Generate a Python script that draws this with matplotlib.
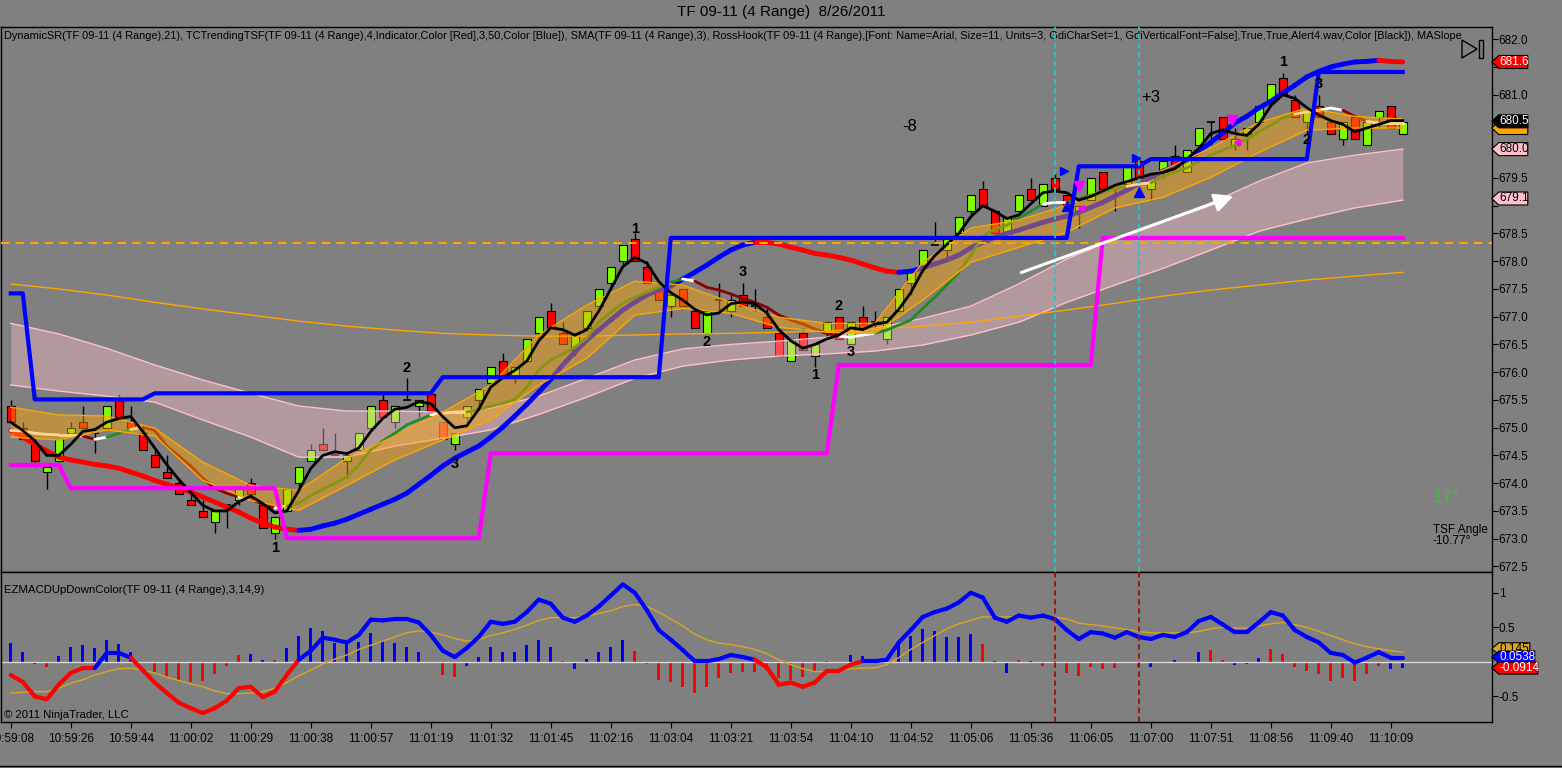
import matplotlib
matplotlib.use('Agg')
import matplotlib.pyplot as plt
import numpy as np
import pandas as pd
from matplotlib.collections import LineCollection
from matplotlib.patches import Rectangle, Polygon
from matplotlib.lines import Line2D
from matplotlib.transforms import blended_transform_factory

plt.rcParams['font.family'] = ['Liberation Sans', 'DejaVu Sans']

title = 'TF 09-11 (4 Range)  8/26/2011'
header = ('DynamicSR(TF 09-11 (4 Range),21), TCTrendingTSF(TF 09-11 (4 Range),4,Indicator,Color [Red],3,50,'
          'Color [Blue]), SMA(TF 09-11 (4 Range),3), RossHook(TF 09-11 (4 Range),[Font: Name=Arial, Size=11, '
          'Units=3, GdiCharSet=1, GdiVerticalFont=False],True,True,Alert4.wav,Color [Black]), MASlope')
macd_header = 'EZMACDUpDownColor(TF 09-11 (4 Range),3,14,9)'

time_labels = ['10:59:08', '10:59:26', '10:59:44', '11:00:02', '11:00:29', '11:00:38', '11:00:57',
               '11:01:19', '11:01:32', '11:01:45', '11:02:16', '11:03:04', '11:03:21', '11:03:54',
               '11:04:10', '11:04:52', '11:05:06', '11:05:36', '11:06:05', '11:07:00', '11:07:51',
               '11:08:56', '11:09:40', '11:10:09']

# 4-range bars
opens = [675.4, 675.0, 674.7, 674.2, 674.4, 674.9, 675.1, 674.9, 675.0, 675.5,
         675.1, 674.9, 674.5, 674.2, 674.0, 673.7, 673.5, 673.3, 673.6, 673.7,
         674.0, 673.6, 673.1, 673.5, 674.0, 674.4, 674.7, 674.5, 674.4, 674.6,
         675.0, 675.5, 675.1, 675.5, 675.4, 675.6, 675.1, 674.7, 675.2, 675.5,
         675.8, 676.2, 675.9, 676.2, 676.7, 677.1, 676.7, 676.4, 676.8, 677.2,
         677.6, 678.0, 678.4, 677.9, 677.5, 677.2, 677.5, 677.1, 676.7, 677.3,
         677.1, 677.4, 677.2, 677.0, 676.7, 676.2, 676.7, 676.3, 676.7, 677.0,
         676.5, 677.0, 676.9, 676.6, 677.1, 677.6, 677.9, 678.3, 678.2, 678.5,
         678.9, 679.3, 678.9, 678.4, 678.9, 679.3, 679.0, 679.5, 679.2, 678.9,
         679.1, 679.6, 679.3, 679.4, 679.8, 679.3, 679.6, 679.9, 679.6, 680.1,
         680.5, 680.6, 680.1, 680.3, 680.5, 680.9, 681.3, 680.9, 680.5, 680.8,
         680.5, 680.2, 680.6, 680.1, 680.6, 680.8, 680.3]
highs = [675.5, 675.1, 674.8, 674.3, 674.8, 675.1, 675.4, 674.9, 675.4, 675.6,
         675.4, 675.0, 674.6, 674.5, 674.1, 673.9, 673.7, 673.5, 673.6, 673.9,
         674.1, 673.6, 673.4, 673.9, 674.3, 674.7, 675.0, 674.9, 674.5, 674.9,
         675.4, 675.6, 675.4, 675.9, 675.5, 675.6, 675.1, 674.9, 675.4, 675.7,
         676.1, 676.35, 676.1, 676.6, 677.0, 677.25, 676.9, 676.7, 677.1, 677.5,
         677.9, 678.3, 678.5, 678.0, 677.5, 677.4, 677.5, 677.1, 677.1, 677.6,
         677.4, 677.6, 677.5, 677.2, 676.7, 676.6, 676.8, 676.5, 676.9, 677.0,
         676.9, 677.2, 677.1, 677.0, 677.5, 677.8, 678.2, 678.7, 678.4, 678.8,
         679.2, 679.45, 678.9, 678.8, 679.2, 679.5, 679.4, 679.6, 679.2, 679.0,
         679.5, 679.6, 679.3, 679.7, 679.9, 679.5, 679.8, 680.1, 680.0, 680.4,
         680.5, 680.6, 680.4, 680.4, 680.8, 681.2, 681.4, 681.0, 680.7, 681.0,
         680.5, 680.5, 680.6, 680.5, 680.7, 680.8, 680.5]
lows = [675.1, 674.8, 674.3, 673.9, 674.4, 674.9, 675.0, 674.55, 675.0, 675.2,
        675.0, 674.6, 674.3, 674.1, 673.8, 673.6, 673.4, 673.1, 673.2, 673.6,
        673.7, 673.2, 673.0, 673.5, 673.9, 674.4, 674.6, 674.5, 674.1, 674.6,
        675.0, 675.2, 675.0, 675.5, 675.2, 675.2, 674.8, 674.6, 675.1, 675.4,
        675.8, 675.9, 675.8, 676.2, 676.6, 676.8, 676.5, 676.3, 676.8, 677.2,
        677.5, 677.9, 678.0, 677.6, 677.3, 677.0, 677.2, 676.8, 676.7, 677.1,
        677.0, 677.2, 677.1, 676.8, 676.3, 676.2, 676.4, 676.1, 676.6, 676.6,
        676.5, 676.8, 676.8, 676.5, 677.1, 677.4, 677.8, 678.3, 678.0, 678.5,
        678.8, 679.0, 678.5, 678.4, 678.9, 679.1, 679.0, 679.3, 679.0, 678.6,
        679.1, 679.3, 678.9, 679.4, 679.5, 679.1, 679.5, 679.7, 679.6, 680.1,
        680.1, 680.2, 680.0, 680.0, 680.5, 680.9, 681.0, 680.6, 680.3, 680.6,
        680.3, 680.1, 680.2, 680.1, 680.4, 680.4, 680.3]
closes = [675.1, 674.8, 674.4, 674.3, 674.8, 675.0, 675.0, 674.9, 675.4, 675.2,
          675.0, 674.6, 674.3, 674.1, 673.8, 673.6, 673.4, 673.5, 673.6, 673.9,
          673.8, 673.2, 673.4, 673.9, 674.3, 674.6, 674.6, 674.5, 674.5, 674.9,
          675.4, 675.2, 675.4, 675.5, 675.5, 675.3, 674.8, 674.9, 675.4, 675.7,
          676.1, 675.9, 676.1, 676.6, 677.0, 676.8, 676.5, 676.7, 677.1, 677.5,
          677.9, 678.3, 678.0, 677.6, 677.3, 677.4, 677.2, 676.8, 677.1, 677.3,
          677.3, 677.2, 677.2, 676.8, 676.3, 676.6, 676.4, 676.5, 676.9, 676.6,
          676.9, 676.8, 676.9, 677.0, 677.5, 677.8, 678.2, 678.3, 678.4, 678.8,
          679.2, 679.0, 678.5, 678.8, 679.2, 679.1, 679.4, 679.3, 679.0, 679.0,
          679.5, 679.3, 679.3, 679.7, 679.5, 679.5, 679.8, 679.7, 680.0, 680.4,
          680.5, 680.2, 680.2, 680.4, 680.8, 681.2, 681.0, 680.6, 680.7, 680.6,
          680.3, 680.5, 680.2, 680.5, 680.7, 680.4, 680.5]

# TCTrendingTSF (red falling / blue rising)
tsf = [674.95, 674.83, 674.70, 674.58, 674.47, 674.42, 674.38, 674.34, 674.31, 674.27,
       674.20, 674.13, 674.05, 673.98, 673.91, 673.84, 673.75, 673.66, 673.57, 673.48,
       673.37, 673.28, 673.21, 673.17, 673.15, 673.17, 673.23, 673.28, 673.35, 673.44,
       673.53, 673.62, 673.71, 673.82, 673.98, 674.14, 674.31, 674.45, 674.56, 674.67,
       674.83, 675.01, 675.21, 675.42, 675.64, 675.87, 676.13, 676.36, 676.58, 676.76,
       676.94, 677.12, 677.26, 677.39, 677.48, 677.55, 677.68, 677.80, 677.93, 678.07,
       678.20, 678.29, 678.34, 678.34, 678.31, 678.25, 678.20, 678.14, 678.11, 678.07,
       678.02, 677.95, 677.88, 677.82, 677.80, 677.82, 677.88, 677.95, 678.02, 678.11,
       678.24, 678.34, 678.43, 678.50, 678.56, 678.63, 678.70, 678.76, 678.81, 678.88,
       678.97, 679.06, 679.17, 679.28, 679.39, 679.51, 679.62, 679.71, 679.82, 679.98,
       680.14, 680.31, 680.49, 680.61, 680.76, 680.88, 681.03, 681.17, 681.32, 681.42,
       681.50, 681.55, 681.59, 681.60, 681.62, 681.60, 681.59]

# MASlope coloured average (white flat / green up / dark red down)
ma_slope = [674.95, 674.94, 674.90, 674.88, 674.87, 674.87, 674.85, 674.79, 674.83, 674.90,
            674.97, 675.01, 674.95, 674.67, 674.49, 674.31, 674.09, 673.91, 673.82, 673.75,
            673.71, 673.62, 673.55, 673.59, 673.64, 673.78, 673.89, 674.00, 674.11, 674.33,
            674.60, 674.76, 674.90, 675.05, 675.14, 675.23, 675.26, 675.28, 675.28, 675.33,
            675.39, 675.44, 675.51, 675.73, 676.04, 676.22, 676.33, 676.45, 676.61, 676.90,
            677.08, 677.24, 677.35, 677.44, 677.53, 677.62, 677.68, 677.64, 677.53, 677.48,
            677.41, 677.33, 677.26, 677.17, 677.03, 676.94, 676.87, 676.78, 676.70, 676.65,
            676.63, 676.67, 676.70, 676.76, 676.85, 676.94, 677.15, 677.35, 677.57, 677.80,
            678.11, 678.45, 678.58, 678.65, 678.78, 678.90, 679.03, 679.06, 679.06, 679.12,
            679.19, 679.24, 679.30, 679.35, 679.39, 679.41, 679.53, 679.60, 679.68, 679.80,
            679.91, 680.00, 680.09, 680.20, 680.33, 680.45, 680.58, 680.65, 680.69, 680.72,
            680.76, 680.72, 680.61, 680.52, 680.49, 680.49, 680.49]

# DynamicSR steps (level, number of bars)
res_levels = [677.42, 675.51, 675.62, 675.91, 678.42, 679.71, 679.84, 681.41]
res_counts = [2, 10, 24, 19, 34, 6, 14, 8]
sup_levels = [674.33, 673.91, 673.01, 674.54, 676.13, 678.42]
sup_counts = [5, 18, 17, 29, 22, 26]

# slow bands, sampled every 4 bars
band_bars = list(range(0, 117, 4))
pink_upper = [676.88, 676.69, 676.43, 676.13, 675.86, 675.62, 675.39, 675.30, 675.30, 675.28,
              675.35, 675.57, 675.89, 676.22, 676.42, 676.50, 676.56, 676.63, 676.79, 676.97,
              677.19, 677.59, 678.04, 678.40, 678.72, 679.05, 679.44, 679.77, 679.91, 680.02]
pink_lower = [675.77, 675.66, 675.57, 675.46, 675.14, 674.83, 674.47, 674.47, 674.67, 674.81,
              674.96, 675.24, 675.55, 675.89, 676.11, 676.22, 676.29, 676.33, 676.38, 676.49,
              676.67, 676.90, 677.26, 677.57, 677.87, 678.20, 678.54, 678.76, 678.96, 679.10]
slow_ma = [677.59, 677.50, 677.39, 677.26, 677.14, 677.03, 676.92, 676.83, 676.76, 676.70,
           676.67, 676.65, 676.65, 676.67, 676.69, 676.70, 676.72, 676.74, 676.78, 676.83,
           676.90, 677.01, 677.12, 677.24, 677.37, 677.48, 677.57, 677.66, 677.73, 677.80]
orange_upper = [675.37, 675.23, 675.21, 674.99, 674.38, 673.96, 673.87, 674.45, 674.85, 675.28,
                675.77, 676.67, 677.21, 677.64, 677.57, 677.26, 676.99, 676.88, 676.88, 677.98,
                678.60, 678.74, 679.01, 679.37, 679.64, 680.04, 680.50, 680.76, 680.61, 680.56]
orange_lower = [674.83, 674.78, 674.96, 674.85, 674.05, 673.69, 673.51, 673.96, 674.42, 674.78,
                675.14, 675.77, 676.25, 677.03, 677.15, 677.06, 676.81, 676.72, 676.70, 677.30,
                677.98, 678.25, 678.52, 678.96, 679.15, 679.51, 679.96, 680.36, 680.40, 680.40]
pivot_level = 678.32

# RossHook labels
hook_bars = [22, 33, 37, 52, 58, 61, 67, 69, 70, 106, 108, 109]
hook_prices = [672.83, 676.07, 674.34, 678.58, 676.54, 677.80, 675.95, 677.19, 676.36, 681.59, 680.18, 681.19]
hook_text = ['1', '2', '3', '1', '2', '3', '1', '2', '3', '1', '2', '3']

# EZ MACD
macd = [-0.19, -0.29, -0.50, -0.54, -0.33, -0.16, -0.09, -0.09, 0.13, 0.13,
        0.06, -0.12, -0.30, -0.45, -0.59, -0.67, -0.74, -0.67, -0.56, -0.38,
        -0.36, -0.51, -0.43, -0.19, 0.03, 0.16, 0.35, 0.32, 0.28, 0.39,
        0.61, 0.60, 0.62, 0.62, 0.57, 0.39, 0.16, 0.07, 0.20, 0.36,
        0.58, 0.55, 0.58, 0.72, 0.90, 0.84, 0.64, 0.58, 0.67, 0.80,
        0.96, 1.12, 1.00, 0.75, 0.46, 0.32, 0.17, 0.01, 0.01, 0.04,
        0.10, 0.07, 0.03, -0.08, -0.33, -0.30, -0.36, -0.30, -0.13, -0.13,
        -0.04, 0.01, 0.01, 0.03, 0.28, 0.46, 0.65, 0.72, 0.77, 0.86,
        1.00, 0.93, 0.64, 0.58, 0.67, 0.64, 0.67, 0.62, 0.46, 0.33,
        0.43, 0.41, 0.35, 0.43, 0.36, 0.33, 0.39, 0.36, 0.43, 0.59,
        0.65, 0.54, 0.43, 0.43, 0.57, 0.72, 0.67, 0.46, 0.36, 0.28,
        0.13, 0.10, -0.01, 0.06, 0.14, 0.06, 0.06]
signal = [-0.45, -0.44, -0.43, -0.43, -0.38, -0.31, -0.26, -0.19, -0.14, -0.10,
          -0.09, -0.12, -0.16, -0.22, -0.27, -0.32, -0.36, -0.42, -0.46, -0.46,
          -0.45, -0.43, -0.38, -0.30, -0.20, -0.12, -0.03, 0.04, 0.10, 0.18,
          0.24, 0.30, 0.36, 0.42, 0.45, 0.43, 0.39, 0.34, 0.30, 0.32,
          0.38, 0.42, 0.47, 0.53, 0.60, 0.64, 0.64, 0.64, 0.66, 0.70,
          0.74, 0.80, 0.83, 0.80, 0.72, 0.62, 0.52, 0.40, 0.32, 0.27,
          0.25, 0.22, 0.18, 0.12, 0.03, -0.04, -0.10, -0.14, -0.14, -0.12,
          -0.10, -0.09, -0.09, -0.04, 0.06, 0.18, 0.28, 0.38, 0.48, 0.55,
          0.60, 0.65, 0.65, 0.65, 0.65, 0.65, 0.65, 0.65, 0.62, 0.56,
          0.54, 0.52, 0.49, 0.47, 0.44, 0.42, 0.42, 0.42, 0.42, 0.44,
          0.48, 0.50, 0.49, 0.49, 0.52, 0.55, 0.57, 0.54, 0.50, 0.44,
          0.38, 0.32, 0.26, 0.22, 0.19, 0.16, 0.14]
hist = [0.28, 0.14, -0.03, -0.08, 0.09, 0.22, 0.25, 0.20, 0.32, 0.26,
        0.14, -0.02, -0.14, -0.22, -0.26, -0.29, -0.28, -0.17, -0.06, 0.10,
        0.12, 0.03, 0.02, 0.20, 0.38, 0.49, 0.45, 0.28, 0.29, 0.29,
        0.42, 0.30, 0.28, 0.22, 0.14, -0.01, -0.19, -0.22, -0.06, 0.07,
        0.22, 0.14, 0.14, 0.25, 0.32, 0.22, 0.01, -0.10, 0.04, 0.14,
        0.22, 0.32, 0.16, -0.03, -0.26, -0.29, -0.36, -0.45, -0.36, -0.23,
        -0.16, -0.14, -0.15, -0.12, -0.24, -0.26, -0.22, -0.14, 0.01, 0.00,
        0.10, 0.08, 0.04, 0.03, 0.28, 0.38, 0.48, 0.44, 0.36, 0.36,
        0.40, 0.26, 0.01, -0.16, 0.02, 0.01, -0.06, 0.01, -0.16, -0.20,
        -0.07, -0.10, -0.09, -0.02, -0.08, -0.08, 0.00, 0.03, -0.01, 0.14,
        0.17, 0.02, -0.05, -0.03, 0.06, 0.19, 0.12, -0.07, -0.13, -0.17,
        -0.27, -0.23, -0.27, -0.17, -0.06, -0.10, -0.09]
hist_up = 'bbbrbbbbbbbbrrrrrrrrbbrbbbbbbbbbbbbrrrbbbbbbbbrbbbbbrrrrrrrrrrrrrrrrrrbbbbbbbbbbbrbbrbrrrrrrrrrbrbbbrrbbbrrrrrrrrrr'

# ---------------------------------------------------------------
GRAY = '#808080'
n = len(closes)
bars = np.arange(n)
sma3 = pd.Series(closes).rolling(3, min_periods=1).mean().values

fig = plt.figure(figsize=(15.62, 7.68), dpi=100, facecolor=GRAY)
W, H = 1562, 768
ax = fig.add_axes([0.0005, 1 - 572 / H, 1491 / W, (572 - 27) / H], facecolor=GRAY)
ax2 = fig.add_axes([0.0005, 1 - 722 / H, 1491 / W, 150 / H], facecolor=GRAY, sharex=ax)

x0, x1 = -10 / 12, (1491 - 10) / 12
ax.set_xlim(x0, x1)
ax.set_ylim(672.40, 682.22)
ax2.set_ylim(-0.87, 1.30)


def seg_lines(axis, x, y, colors, lw, z):
    pts = np.column_stack([x, y])
    segs = np.stack([pts[:-1], pts[1:]], axis=1)
    axis.add_collection(LineCollection(segs, colors=colors, linewidths=lw, zorder=z, capstyle='round'))


# candles
for i in range(n):
    o, h, l, c = opens[i], highs[i], lows[i], closes[i]
    ax.vlines(i, l, h, color='black', lw=1, zorder=1)
    if c > o:
        fc = '#7fff00'
    elif c < o:
        fc = '#ff0000'
    else:
        ax.hlines(o, i - 0.33, i + 0.33, color='black', lw=1.2, zorder=1.1)
        continue
    ax.add_patch(Rectangle((i - 0.33, min(o, c)), 0.66, abs(c - o), fc=fc, ec='black', lw=0.8, zorder=1.1))

# pink band over the candles
ax.fill_between(band_bars, pink_lower, pink_upper, color='#ffc0cb', alpha=0.4, lw=0, zorder=1.5)
ax.plot(band_bars, pink_upper, color='#ffc0cb', lw=1, zorder=1.6)
ax.plot(band_bars, pink_lower, color='#ffc0cb', lw=1, zorder=1.6)
ax.plot(band_bars, slow_ma, color='#ffa500', lw=1, zorder=1.7)

# TSF
tsf_arr = np.array(tsf)
tsf_cols = ['#0000ff' if tsf_arr[i + 1] > tsf_arr[i] else '#ff0000' for i in range(n - 1)]
seg_lines(ax, bars, tsf_arr, tsf_cols, 3.5, 2)

# MA slope line
ma_arr = np.array(ma_slope)
ma_cols = []
for i in range(n - 1):
    d = ma_arr[i + 1] - ma_arr[i]
    ma_cols.append('white' if abs(d) < 0.045 else ('#228b22' if d > 0 else '#8b0000'))
seg_lines(ax, bars, ma_arr, ma_cols, 2, 2.1)

# orange channel on top
ax.fill_between(band_bars, orange_lower, orange_upper, color='#ffa500', alpha=0.45, lw=0, zorder=3)
ax.plot(band_bars, orange_upper, color='#ffa500', lw=1, zorder=3.1)
ax.plot(band_bars, orange_lower, color='#ffa500', lw=1, zorder=3.1)

ax.plot(bars, sma3, color='black', lw=2, zorder=4)

ax.plot(bars, np.repeat(res_levels, res_counts), color='#0000ff', lw=3, zorder=4.5)
ax.plot(bars, np.repeat(sup_levels, sup_counts), color='#ff00ff', lw=3, zorder=4.5)
ax.axhline(pivot_level, color='#ffa500', lw=1.5, ls=(0, (4, 3)), zorder=4.4)

for b in (87, 94):
    ax.axvline(b, color='#20c8c8', lw=1.3, ls=(0, (3, 2)), zorder=4.6)
    ax2.axvline(b, color='#a01010', lw=1.3, ls=(0, (3, 2)), zorder=4.6)

ax.annotate('', xy=(102.1, 679.19), xytext=(84.0, 677.78),
            arrowprops=dict(arrowstyle='-|>', color='white', lw=2.2, mutation_scale=28), zorder=5)

for b, p, t in zip(hook_bars, hook_prices, hook_text):
    ax.text(b, p, t, ha='center', va='center', fontsize=10.5, fontweight='bold', color='black', zorder=6)

# signal markers
ax.plot([87.75, 93.75], [679.62, 679.86], marker='>', ls='none', color='#0000ff', ms=6, zorder=6)
ax.plot([88.0, 94.0], [679.0, 679.25], marker='^', ls='none', color='#0000ff', ms=7, zorder=6)
ax.plot([89.0, 101.8], [679.35, 680.55], marker='v', ls='none', color='#ff00ff', ms=7, zorder=6)
ax.plot([89.2, 102.2], [678.95, 680.15], marker='<', ls='none', color='#ff00ff', ms=5, zorder=6)

ax.text(74.9, 680.43, '-8', fontsize=12, ha='center', va='center', color='black', zorder=6)
ax.text(95.0, 680.95, '+3', fontsize=12, ha='center', va='center', color='black', zorder=6)
ax.text(119.6, 673.75, '17°', fontsize=13, ha='center', va='center', color='#3cc043', zorder=6)
ax.text(118.5, 673.27, 'TSF Angle\n-10.77°', fontsize=8.5, ha='left', va='top', color='black',
        linespacing=0.95, zorder=6)

ax.text(0.002, 0.992, header, transform=ax.transAxes, fontsize=7.9, ha='left', va='top', color='black')

# right axis (labels hidden under the price tags are left blank)
ytick_vals = np.arange(672.5, 682.01, 0.5)
hidden = {'679.0', '680.5', '681.5'}
ax.yaxis.tick_right()
ax.set_yticks(ytick_vals)
ax.set_yticklabels(['' if ('%.1f' % v) in hidden else '%.1f' % v for v in ytick_vals])
ax.tick_params(axis='y', direction='out', length=4, labelsize=8.5, pad=1, colors='black')
ax.tick_params(axis='x', bottom=False, labelbottom=False)

# lower panel
hist_cols = ['#0000ff' if c == 'b' else '#ff0000' for c in hist_up]
ax2.bar(bars, hist, width=0.25, color=hist_cols, zorder=2)
ax2.axhline(0, color='#d8d8d8', lw=1, zorder=2.5)
ax2.plot(bars, signal, color='#daa520', lw=1, zorder=3)
macd_arr = np.array(macd)
macd_cols = ['#0000ff' if (macd_arr[i] + macd_arr[i + 1]) / 2 > 0 else '#ff0000' for i in range(n - 1)]
seg_lines(ax2, bars, macd_arr, macd_cols, 3, 4)

ax2.yaxis.tick_right()
ax2.set_yticks([-0.5, 0.5, 1])
ax2.set_yticklabels(['-0.5', '0.5', '1'])
ax2.tick_params(axis='y', direction='out', length=4, labelsize=8.5, pad=1)
ax2.set_xticks(np.arange(0, 116, 5))
ax2.set_xticklabels(time_labels)
ax2.tick_params(axis='x', direction='out', length=4, labelsize=8.5, pad=4)
ax2.text(0.002, 0.88, macd_header, transform=ax2.transAxes, fontsize=8.2, ha='left', va='center')
ax2.text(0.002, 0.01, '© 2011 NinjaTrader, LLC', transform=ax2.transAxes, fontsize=8.2, ha='left', va='bottom')

for a in (ax, ax2):
    for s in a.spines.values():
        s.set_color('black')
        s.set_linewidth(1)


def tag(axis, y, text, fc, tc, w_px, h_px, upp):
    tr = blended_transform_factory(axis.transAxes, axis.transData)
    tip, w, h = 7 / 1491, w_px / 1491, h_px * upp / 2
    axis.add_patch(Polygon([(1, y), (1 + tip, y + h), (1 + w, y + h), (1 + w, y - h), (1 + tip, y - h)],
                           closed=True, transform=tr, fc=fc, ec='black', lw=0.8, clip_on=False, zorder=10))
    if text:
        axis.text(1 + tip + 1 / 1491, y, text, transform=tr, ha='left', va='center', color=tc,
                  fontsize=8.5, clip_on=False, zorder=11)


upp_main = (682.22 - 672.40) / 545
upp_low = (1.30 + 0.87) / 150
tag(ax, 679.13, '679.1', '#ffc0cb', 'black', 36, 13, upp_main)
tag(ax, 680.02, '680.0', '#ffc0cb', 'black', 36, 13, upp_main)
tag(ax, 680.40, '', '#ffa500', 'black', 36, 13, upp_main)
tag(ax, 680.52, '680.5', 'black', 'white', 36, 13, upp_main)
tag(ax, 681.59, '681.6', '#ff0000', 'white', 36, 13, upp_main)
tag(ax2, 0.19, '0.145', '#daa520', 'black', 38, 12, upp_low)
tag(ax2, 0.07, '0.0538', '#0000ff', 'white', 43, 12, upp_low)
tag(ax2, -0.09, '-0.0914', '#ff0000', 'white', 46, 12, upp_low)

fig.text(0.5, 1 - 12 / H, title, ha='center', va='center', fontsize=11, color='black')

# play icon and window border
fig.add_artist(Polygon([(1462 / W, 1 - 40 / H), (1462 / W, 1 - 58 / H), (1477 / W, 1 - 49 / H)],
                       closed=True, transform=fig.transFigure, fc='none', ec='black', lw=1))
fig.add_artist(Rectangle((1479 / W, 1 - 58 / H), 4 / W, 18 / H, transform=fig.transFigure,
                         fc='none', ec='black', lw=1))
fig.add_artist(Line2D([0, 1], [1 - 766 / H] * 2, transform=fig.transFigure, color='black', lw=1))

fig.savefig('out.png', dpi=100, facecolor=GRAY)
